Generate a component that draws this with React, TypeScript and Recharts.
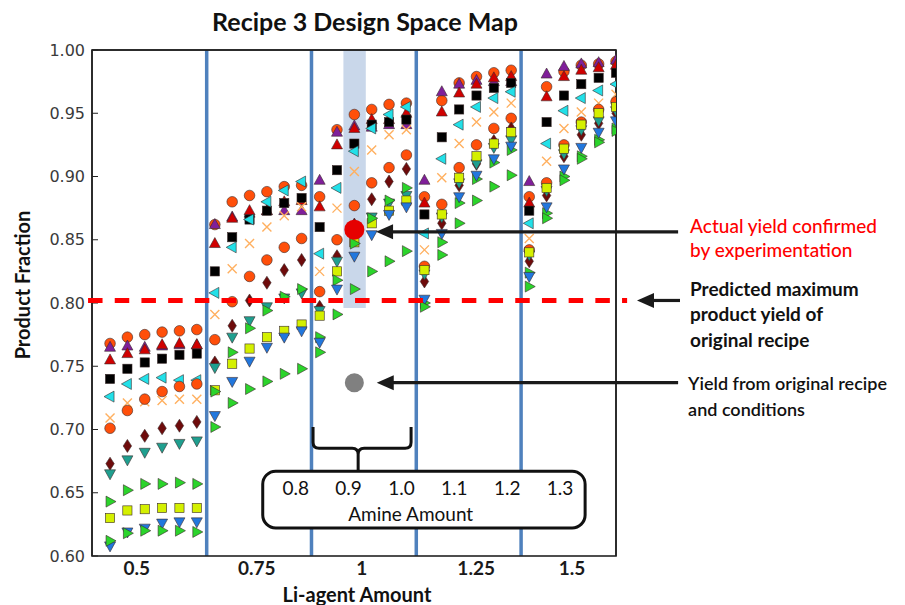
import React from 'react';
import { ComposedChart, Scatter, XAxis, YAxis, ReferenceLine, ReferenceArea } from 'recharts';

// ---------------- data ----------------
const liAgentLabels = ['0.5', '0.75', '1', '1.25', '1.5'];
const liAgentLabelPos = [1.54, 8.46, 14.51, 21.1, 26.63];
const xTickMarkPos = [3.99, 9.03, 14.12, 19.12, 24.11];
const amineLabels = ['0.8', '0.9', '1.0', '1.1', '1.2', '1.3'];
const yTicks = [0.6, 0.65, 0.7, 0.75, 0.8, 0.85, 0.9, 0.95, 1.0];

// each series: 5 Li-agent groups x 6 amine amounts
const orangeCircleHigh = [
  0.768, 0.773, 0.775, 0.777, 0.778, 0.779,
  0.862, 0.880, 0.885, 0.888, 0.892, 0.893,
  0.884, 0.937, 0.949, 0.953, 0.957, 0.958,
  0.884, 0.960, 0.974, 0.979, 0.982, 0.984,
  0.884, 0.971, 0.983, 0.988, 0.989, 0.991,
];
const purpleTriUp = [
  0.765, 0.766, 0.765, 0.766, 0.767, 0.767,
  0.862, 0.868, 0.871, 0.873, 0.873, 0.873,
  0.897, 0.935, 0.940, 0.939, 0.941, 0.941,
  0.897, 0.967, 0.973, 0.976, 0.975, 0.975,
  0.896, 0.981, 0.987, 0.989, 0.990, 0.992,
];
const redTriUp = [
  0.755, 0.760, 0.763, 0.767, 0.768, 0.767,
  0.847, 0.867, 0.873, 0.873, 0.880, 0.881,
  0.876, 0.925, 0.938, 0.945, 0.945, 0.950,
  0.879, 0.951, 0.966, 0.973, 0.978, 0.979,
  0.879, 0.963, 0.979, 0.984, 0.986, 0.988,
];
const blackSquare = [
  0.740, 0.748, 0.753, 0.756, 0.759, 0.760,
  0.825, 0.852, 0.866, 0.873, 0.879, 0.883,
  0.860, 0.905, 0.926, 0.941, 0.943, 0.945,
  0.870, 0.931, 0.953, 0.964, 0.970, 0.974,
  0.873, 0.943, 0.964, 0.973, 0.978, 0.982,
];
const cyanTriLeft = [
  0.726, 0.736, 0.740, 0.741, 0.739, 0.739,
  0.808, 0.844, 0.866, 0.880, 0.889, 0.896,
  0.839, 0.891, 0.920, 0.938, 0.949, 0.955,
  0.855, 0.914, 0.941, 0.955, 0.962, 0.967,
  0.863, 0.926, 0.952, 0.962, 0.968, 0.973,
];
const orangeCross = [
  0.709, 0.721, 0.722, 0.723, 0.724, 0.724,
  0.791, 0.827, 0.847, 0.860, 0.869, 0.876,
  0.825, 0.875, 0.904, 0.921, 0.933, 0.937,
  0.842, 0.899, 0.926, 0.943, 0.951, 0.958,
  0.851, 0.912, 0.938, 0.951, 0.958, 0.965,
];
const orangeCircleLow = [
  0.701, 0.715, 0.724, 0.730, 0.734, 0.736,
  0.771, 0.801, 0.821, 0.834, 0.844, 0.851,
  0.809, 0.850, 0.877, 0.895, 0.907, 0.917,
  0.829, 0.878, 0.907, 0.925, 0.938, 0.946,
  0.842, 0.895, 0.925, 0.943, 0.953, 0.959,
];
const maroonDiamond = [
  0.673, 0.687, 0.695, 0.701, 0.703, 0.706,
  0.753, 0.782, 0.802, 0.816, 0.826, 0.834,
  0.797, 0.837, 0.862, 0.882, 0.896, 0.906,
  0.817, 0.863, 0.893, 0.910, 0.928, 0.938,
  0.833, 0.885, 0.916, 0.933, 0.942, 0.950,
];
const tealTriDown = [
  0.665, 0.676, 0.682, 0.686, 0.689, 0.691,
  0.749, 0.773, 0.786, 0.797, 0.804, 0.808,
  0.794, 0.833, 0.857, 0.868, 0.879, 0.885,
  0.823, 0.868, 0.895, 0.910, 0.923, 0.929,
  0.838, 0.889, 0.918, 0.937, 0.944, 0.952,
];
const yellowSquare = [
  0.630, 0.636, 0.637, 0.638, 0.638, 0.638,
  0.731, 0.752, 0.764, 0.773, 0.778, 0.783,
  0.790, 0.825, 0.848, 0.863, 0.873, 0.881,
  0.826, 0.870, 0.899, 0.916, 0.926, 0.935,
  0.840, 0.891, 0.922, 0.941, 0.950, 0.955,
];
const blueTriDown = [
  0.608, 0.619, 0.622, 0.626, 0.627, 0.627,
  0.711, 0.738, 0.754, 0.765, 0.773, 0.778,
  0.769, 0.811, 0.837, 0.854, 0.870, 0.876,
  0.803, 0.855, 0.884, 0.901, 0.914, 0.924,
  0.821, 0.876, 0.906, 0.923, 0.935, 0.944,
];
const greenTriRightHigh = [
  0.643, 0.652, 0.657, 0.657, 0.658, 0.657,
  0.730, 0.761, 0.780, 0.794, 0.805, 0.811,
  0.773, 0.818, 0.847, 0.867, 0.881, 0.891,
  0.800, 0.848, 0.879, 0.898, 0.911, 0.921,
  0.824, 0.871, 0.900, 0.916, 0.929, 0.938,
];
const greenTriRightLow = [
  0.612, 0.618, 0.620, 0.620, 0.620, 0.619,
  0.702, 0.721, 0.732, 0.738, 0.744, 0.748,
  0.761, 0.791, 0.811, 0.825, 0.833, 0.841,
  0.797, 0.838, 0.863, 0.881, 0.892, 0.901,
  0.813, 0.867, 0.897, 0.914, 0.927, 0.936,
];

const confirmedYield = 0.858;
const originalYield = 0.737;
const predictedMax = 0.802;
const highlightIndex = 14; // Li-agent group 3, amine column 3

// ---------------- layout helpers ----------------
const PER_GROUP = 6;
const GROUP_STRIDE = 6.04;
const X_DOMAIN: [number, number] = [-1.04, 29.16];
const Y_DOMAIN: [number, number] = [0.6, 1.0];
const xPos = (idx: number) => Math.floor(idx / PER_GROUP) * GROUP_STRIDE + (idx % PER_GROUP);
const toPoints = (vals: number[]) => vals.map((y, i) => ({ x: xPos(i), y }));
const dividers = [1, 2, 3, 4].map((g) => g * GROUP_STRIDE - 0.47);

const EDGE = '#3a2a2a';

type Kind = 'circle' | 'square' | 'up' | 'down' | 'left' | 'right' | 'diamond' | 'x';

const Marker = ({ cx, cy, kind, fill }: { cx: number; cy: number; kind: Kind; fill: string }) => {
  if (cx == null || cy == null) return null;
  const sw = 0.6;
  switch (kind) {
    case 'circle':
      return <circle cx={cx} cy={cy} r={5.3} fill={fill} stroke={EDGE} strokeWidth={sw} />;
    case 'square':
      return <rect x={cx - 4.6} y={cy - 4.6} width={9.2} height={9.2} fill={fill} stroke={EDGE} strokeWidth={sw} />;
    case 'up':
      return <polygon points={`${cx},${cy - 6} ${cx + 5.5},${cy + 4} ${cx - 5.5},${cy + 4}`} fill={fill} stroke={EDGE} strokeWidth={sw} />;
    case 'down':
      return <polygon points={`${cx},${cy + 6} ${cx + 5.5},${cy - 4} ${cx - 5.5},${cy - 4}`} fill={fill} stroke={EDGE} strokeWidth={sw} />;
    case 'left':
      return <polygon points={`${cx - 6},${cy} ${cx + 4},${cy - 5.5} ${cx + 4},${cy + 5.5}`} fill={fill} stroke={EDGE} strokeWidth={sw} />;
    case 'right':
      return <polygon points={`${cx + 6},${cy} ${cx - 4},${cy - 5.5} ${cx - 4},${cy + 5.5}`} fill={fill} stroke={EDGE} strokeWidth={sw} />;
    case 'diamond':
      return <polygon points={`${cx},${cy - 6.5} ${cx + 4.2},${cy} ${cx},${cy + 6.5} ${cx - 4.2},${cy}`} fill={fill} stroke={EDGE} strokeWidth={sw} />;
    case 'x':
      return (
        <path d={`M${cx - 4.5},${cy - 4.5}L${cx + 4.5},${cy + 4.5}M${cx + 4.5},${cy - 4.5}L${cx - 4.5},${cy + 4.5}`} stroke={fill} strokeWidth={1.4} fill="none" />
      );
    default:
      return null;
  }
};

const seriesDefs: { name: string; values: number[]; kind: Kind; fill: string }[] = [
  { name: 'orangeCircleHigh', values: orangeCircleHigh, kind: 'circle', fill: '#ff4f0a' },
  { name: 'purpleTriUp', values: purpleTriUp, kind: 'up', fill: '#801f9a' },
  { name: 'redTriUp', values: redTriUp, kind: 'up', fill: '#d00000' },
  { name: 'blackSquare', values: blackSquare, kind: 'square', fill: '#000000' },
  { name: 'cyanTriLeft', values: cyanTriLeft, kind: 'left', fill: '#22e0e8' },
  { name: 'orangeCross', values: orangeCross, kind: 'x', fill: '#ffb060' },
  { name: 'orangeCircleLow', values: orangeCircleLow, kind: 'circle', fill: '#ff4f0a' },
  { name: 'maroonDiamond', values: maroonDiamond, kind: 'diamond', fill: '#6e0b0b' },
  { name: 'tealTriDown', values: tealTriDown, kind: 'down', fill: '#1f9f8f' },
  { name: 'yellowSquare', values: yellowSquare, kind: 'square', fill: '#d4f000' },
  { name: 'greenTriRightHigh', values: greenTriRightHigh, kind: 'right', fill: '#2bd42b' },
  { name: 'blueTriDown', values: blueTriDown, kind: 'down', fill: '#2277dd' },
  { name: 'greenTriRightLow', values: greenTriRightLow, kind: 'right', fill: '#2bd42b' },
];

const ANN_FONT = 'Lato, "Open Sans", sans-serif';

const makeArrowShape = (lines: string[], color: string, dx: number, dy: number, lh: number, size: number, weight: number) =>
  (props: any) => {
    const { x1, y1, x2, y2 } = props;
    const head = 17;
    const half = 7.5;
    return (
      <g>
        <line x1={x1} y1={y1} x2={x2 + head * 0.8} y2={y2} stroke="#1a1a1a" strokeWidth={3.2} />
        <polygon points={`${x2},${y2} ${x2 + head},${y2 - half} ${x2 + head},${y2 + half}`} fill="#1a1a1a" />
        {lines.map((t, i) => (
          <text key={i} x={x1 + dx} y={y1 + dy + i * lh} fill={color} fontFamily={ANN_FONT} fontSize={size} fontWeight={weight} dominantBaseline="central">
            {t}
          </text>
        ))}
      </g>
    );
  };

const braceShape = (p: any) => {
  const { x, y, width: w, height: h } = p;
  const yb = y + h * 0.48;
  const cx = x + w * 0.46;
  const r = 6;
  const d =
    `M${x},${y} L${x},${yb - r} Q${x},${yb} ${x + r},${yb} L${cx - r},${yb} Q${cx},${yb} ${cx},${yb + r} L${cx},${y + h} ` +
    `M${x + w},${y} L${x + w},${yb - r} Q${x + w},${yb} ${x + w - r},${yb} L${cx + r},${yb} Q${cx},${yb} ${cx},${yb + r}`;
  return <path d={d} stroke="#111" strokeWidth={3} fill="none" />;
};

const boxShape = (p: any) => {
  const { x, y, width: w, height: h } = p;
  const step = (w - 58) / (amineLabels.length - 1);
  return (
    <g>
      <rect x={x} y={y} width={w} height={h} rx={13} ry={13} fill="#fff" stroke="#111" strokeWidth={3} />
      {amineLabels.map((t, i) => (
        <text key={t} x={x + 33 + i * step} y={y + 16} textAnchor="middle" dominantBaseline="central" fontFamily={ANN_FONT} fontSize={19} fill="#111">
          {t}
        </text>
      ))}
      <text x={x + w * 0.459} y={y + 42} textAnchor="middle" dominantBaseline="central" fontFamily={ANN_FONT} fontSize={19} fill="#111">
        Amine Amount
      </text>
    </g>
  );
};

const frameShape = (p: any) => {
  const { x, y, width: w, height: h } = p;
  return <rect x={x} y={y} width={w} height={h} fill="none" stroke="#222" strokeWidth={1.6} />;
};

const AXIS_STROKE = '#222';

export default function App() {
  const hlX = xPos(highlightIndex);
  return (
    <div style={{ position: 'absolute', left: 0, top: 0, width: 905, height: 605, background: '#fff' }}>
      <ComposedChart width={905} height={605} margin={{ top: 49, right: 288, bottom: 19, left: 32 }}>
        <XAxis xAxisId="lab" type="number" dataKey="x" domain={X_DOMAIN} allowDataOverflow ticks={liAgentLabelPos} interval={0}
          tickFormatter={(v: number) => liAgentLabels[liAgentLabelPos.indexOf(v)] ?? ''}
          tickLine={false} axisLine={false} tickSize={0} tickMargin={6} height={30}
          tick={{ fontFamily: ANN_FONT, fontWeight: 700, fontSize: 19, fill: '#1a1a1a' }} />
        <XAxis xAxisId="marks" mirror type="number" dataKey="x" domain={X_DOMAIN} allowDataOverflow ticks={xTickMarkPos} interval={0}
          tick={false} tickSize={6} height={1} stroke={AXIS_STROKE} axisLine={false} tickLine={{ stroke: AXIS_STROKE }} />
        <XAxis xAxisId="top" orientation="top" type="number" dataKey="x" domain={X_DOMAIN} allowDataOverflow ticks={xTickMarkPos} interval={0}
          tick={false} tickSize={-6} height={1} stroke={AXIS_STROKE} axisLine={{ stroke: AXIS_STROKE, strokeWidth: 1.5 }} tickLine={{ stroke: AXIS_STROKE }} />
        <YAxis yAxisId="left" type="number" dataKey="y" domain={Y_DOMAIN} allowDataOverflow ticks={yTicks} interval={0}
          tickFormatter={(v: number) => v.toFixed(2)} width={60} tickSize={-6} tickMargin={13} stroke={AXIS_STROKE}
          axisLine={{ stroke: AXIS_STROKE, strokeWidth: 1.5 }} tickLine={{ stroke: AXIS_STROKE }}
          tick={{ fontFamily: '"DejaVu Sans", sans-serif', fontSize: 16, fill: '#3a3a3a' }} />
        <YAxis yAxisId="right" orientation="right" type="number" dataKey="y" domain={Y_DOMAIN} allowDataOverflow ticks={yTicks} interval={0}
          width={1} tick={false} tickSize={-6} stroke={AXIS_STROKE} axisLine={{ stroke: AXIS_STROKE, strokeWidth: 1.5 }} tickLine={{ stroke: AXIS_STROKE }} />

        <ReferenceArea xAxisId="lab" yAxisId="left" x1={hlX - 0.63} x2={hlX + 0.66} y1={0.796} y2={1.0}
          fill="#c9d7ea" fillOpacity={1} stroke="none" ifOverflow="visible" zIndex={50} />

        {dividers.map((d) => (
          <ReferenceLine key={d} xAxisId="lab" yAxisId="left" x={d} stroke="#4f81bd" strokeWidth={3.5} zIndex={60} />
        ))}

        <ReferenceArea xAxisId="lab" yAxisId="left" x1={X_DOMAIN[0]} x2={X_DOMAIN[1]} y1={Y_DOMAIN[0]} y2={Y_DOMAIN[1]}
          ifOverflow="visible" zIndex={70} shape={frameShape} />

        {seriesDefs.map((s) => (
          <Scatter key={s.name} name={s.name} xAxisId="lab" yAxisId="left" data={toPoints(s.values)} isAnimationActive={false}
            shape={(p: any) => <Marker cx={p.cx} cy={p.cy} kind={s.kind} fill={s.fill} />} />
        ))}

        <ReferenceLine xAxisId="lab" yAxisId="left" ifOverflow="visible" zIndex={650}
          segment={[{ x: -1.268, y: predictedMax }, { x: 29.8, y: predictedMax }]}
          stroke="#ff0000" strokeWidth={5} strokeDasharray="14.5 12.2" />

        <ReferenceArea xAxisId="lab" yAxisId="left" x1={11.7} x2={17.35} y1={0.667} y2={0.702} ifOverflow="visible" zIndex={660}
          shape={braceShape} />
        <ReferenceArea xAxisId="lab" yAxisId="left" x1={8.8} x2={27.38} y1={0.6222} y2={0.667} ifOverflow="visible" zIndex={670}
          shape={boxShape} />

        <ReferenceLine xAxisId="lab" yAxisId="left" ifOverflow="visible" zIndex={700}
          segment={[{ x: 32.74, y: 0.8563 }, { x: 15.33, y: 0.8563 }]}
          shape={makeArrowShape(['Actual yield confirmed', 'by experimentation'], '#ff0000', 12, -6, 24, 19, 500)} />
        <ReferenceLine xAxisId="lab" yAxisId="left" ifOverflow="visible" zIndex={700}
          segment={[{ x: 32.85, y: predictedMax }, { x: 30.37, y: predictedMax }]}
          shape={makeArrowShape(['Predicted maximum', 'product yield of', 'original recipe'], '#111', 10, -12, 25.5, 19, 700)} />
        <ReferenceLine xAxisId="lab" yAxisId="left" ifOverflow="visible" zIndex={700}
          segment={[{ x: 32.74, y: originalYield }, { x: 15.37, y: originalYield }]}
          shape={makeArrowShape(['Yield from original recipe', 'and conditions'], '#111', 10, 0, 26, 18, 600)} />

        <Scatter name="confirmed" xAxisId="lab" yAxisId="left" data={[{ x: hlX, y: confirmedYield }]} isAnimationActive={false} zIndex={710}
          shape={(p: any) => <circle cx={p.cx} cy={p.cy} r={10} fill="#e60000" />} />
        <Scatter name="original" xAxisId="lab" yAxisId="left" data={[{ x: hlX, y: originalYield }]} isAnimationActive={false} zIndex={710}
          shape={(p: any) => <circle cx={p.cx} cy={p.cy} r={9.5} fill="#808080" />} />
      </ComposedChart>

      <svg width={905} height={605} style={{ position: 'absolute', left: 0, top: 0, pointerEvents: 'none' }}>
        <text x={365} y={31} textAnchor="middle" fontFamily={ANN_FONT} fontWeight={700} fontSize={25} fill="#111">
          Recipe 3 Design  Space Map
        </text>
        <text x={22} y={285} transform="rotate(-90 22 285)" textAnchor="middle" dominantBaseline="central" fontFamily={ANN_FONT} fontWeight={700} fontSize={20} fill="#111">
          Product Fraction
        </text>
        <text x={357} y={602} textAnchor="middle" fontFamily={ANN_FONT} fontWeight={700} fontSize={20} fill="#111">
          Li-agent Amount
        </text>
      </svg>
    </div>
  );
}
